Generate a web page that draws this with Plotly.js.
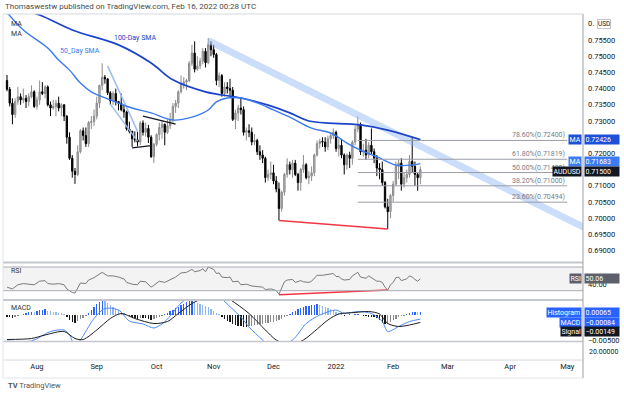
<!DOCTYPE html>
<html><head><meta charset="utf-8">
<script src="https://cdn.plot.ly/plotly-3.0.1.min.js"></script>
<style>html,body{margin:0;padding:0;background:#fff;}#chart{width:624px;height:395px;}</style>
</head><body><div id="chart"></div>
<script>
// ---------- DATA ----------
const dates = [
"2021-07-16","2021-07-19","2021-07-20","2021-07-21","2021-07-22","2021-07-23","2021-07-26","2021-07-27","2021-07-28","2021-07-29","2021-07-30",
"2021-08-02","2021-08-03","2021-08-04","2021-08-05","2021-08-06","2021-08-09","2021-08-10","2021-08-11","2021-08-12","2021-08-13","2021-08-16","2021-08-17","2021-08-18","2021-08-19","2021-08-20","2021-08-23","2021-08-24","2021-08-25","2021-08-26","2021-08-27","2021-08-30","2021-08-31",
"2021-09-01","2021-09-02","2021-09-03","2021-09-06","2021-09-07","2021-09-08","2021-09-09","2021-09-10","2021-09-13","2021-09-14","2021-09-15","2021-09-16","2021-09-17","2021-09-20","2021-09-21","2021-09-22","2021-09-23","2021-09-24","2021-09-27","2021-09-28","2021-09-29","2021-09-30",
"2021-10-01","2021-10-04","2021-10-05","2021-10-06","2021-10-07","2021-10-08","2021-10-11","2021-10-12","2021-10-13","2021-10-14","2021-10-15","2021-10-18","2021-10-19","2021-10-20","2021-10-21","2021-10-22","2021-10-25","2021-10-26","2021-10-27","2021-10-28","2021-10-29",
"2021-11-01","2021-11-02","2021-11-03","2021-11-04","2021-11-05","2021-11-08","2021-11-09","2021-11-10","2021-11-11","2021-11-12","2021-11-15","2021-11-16","2021-11-17","2021-11-18","2021-11-19","2021-11-22","2021-11-23","2021-11-24","2021-11-25","2021-11-26","2021-11-29","2021-11-30",
"2021-12-01","2021-12-02","2021-12-03","2021-12-06","2021-12-07","2021-12-08","2021-12-09","2021-12-10","2021-12-13","2021-12-14","2021-12-15","2021-12-16","2021-12-17","2021-12-20","2021-12-21","2021-12-22","2021-12-23","2021-12-24","2021-12-27","2021-12-28","2021-12-29","2021-12-30","2021-12-31",
"2022-01-03","2022-01-04","2022-01-05","2022-01-06","2022-01-07","2022-01-10","2022-01-11","2022-01-12","2022-01-13","2022-01-14","2022-01-17","2022-01-18","2022-01-19","2022-01-20","2022-01-21","2022-01-24","2022-01-25","2022-01-26","2022-01-27","2022-01-28","2022-01-31",
"2022-02-01","2022-02-02","2022-02-03","2022-02-04","2022-02-07","2022-02-08","2022-02-09","2022-02-10","2022-02-11","2022-02-14","2022-02-15"];

const open = [.7425,.7398,.7355,.7320,.7360,.7375,.7365,.7370,.7360,.7375,.7390,
.7345,.7365,.7390,.7385,.7405,.7350,.7340,.7345,.7355,.7340,.7350,.7315,.7250,.7185,.7145,.7135,.7205,.7270,.7255,.7230,.7295,.7298,
.7315,.7355,.7410,.7435,.7430,.7387,.7362,.7385,.7360,.7355,.7335,.7328,.7275,.7268,.7245,.7242,.7235,.7294,.7265,.7277,.7250,.7190,
.7228,.7258,.7280,.7290,.7265,.7285,.7305,.7345,.7355,.7390,.7415,.7420,.7425,.7478,.7510,.7460,.7470,.7485,.7515,.7480,.7535,
.7520,.7505,.7425,.7440,.7385,.7405,.7400,.7395,.7305,.7325,.7340,.7335,.7265,.7270,.7265,.7235,.7240,.7205,.7195,.7185,.7125,.7135,
.7140,.7115,.7090,.7030,.7080,.7135,.7165,.7150,.7170,.7135,.7110,.7150,.7165,.7125,.7130,.7140,.7195,.7230,.7237,.7235,.7220,.7245,.7255,
.7265,.7215,.7225,.7195,.7165,.7195,.7185,.7235,.7275,.7290,.7205,.7210,.7195,.7225,.7205,.7185,.7155,.7150,.7110,.7035,.7020,
.7070,.7105,.7160,.7170,.7105,.7125,.7135,.7175,.7160,.7135,.7125];
const high = [.7442,.7405,.7370,.7370,.7405,.7385,.7400,.7380,.7385,.7410,.7395,
.7375,.7425,.7420,.7410,.7410,.7360,.7365,.7365,.7375,.7355,.7352,.7318,.7265,.7195,.7155,.7225,.7275,.7280,.7280,.7300,.7315,.7335,
.7375,.7412,.7478,.7442,.7432,.7392,.7392,.7400,.7362,.7385,.7350,.7332,.7298,.7270,.7268,.7267,.7300,.7302,.7295,.7288,.7256,.7232,
.7262,.7295,.7300,.7292,.7305,.7325,.7355,.7365,.7395,.7440,.7435,.7430,.7485,.7535,.7546,.7500,.7495,.7525,.7525,.7556,.7546,
.7535,.7510,.7450,.7445,.7420,.7420,.7430,.7405,.7335,.7350,.7370,.7345,.7280,.7290,.7280,.7260,.7245,.7225,.7210,.7190,.7150,.7175,
.7165,.7130,.7110,.7085,.7140,.7185,.7175,.7180,.7180,.7140,.7155,.7195,.7170,.7145,.7160,.7200,.7240,.7245,.7250,.7250,.7255,.7265,.7277,
.7270,.7245,.7245,.7200,.7200,.7205,.7240,.7285,.7314,.7295,.7230,.7245,.7235,.7277,.7215,.7195,.7170,.7175,.7115,.7060,.7075,
.7115,.7175,.7180,.7185,.7140,.7150,.7195,.7249,.7175,.7140,.7160];
const low = [.7392,.7345,.7290,.7310,.7350,.7350,.7355,.7340,.7345,.7370,.7340,
.7335,.7350,.7380,.7370,.7345,.7315,.7335,.7315,.7330,.7315,.7300,.7230,.7180,.7125,.7106,.7130,.7200,.7240,.7220,.7220,.7275,.7285,
.7305,.7340,.7395,.7415,.7380,.7350,.7350,.7348,.7333,.7330,.7310,.7270,.7262,.7220,.7234,.7222,.7226,.7255,.7252,.7232,.7186,.7170,
.7222,.7240,.7245,.7225,.7260,.7275,.7295,.7325,.7340,.7385,.7400,.7395,.7420,.7470,.7450,.7455,.7460,.7475,.7465,.7475,.7500,
.7495,.7410,.7405,.7375,.7375,.7385,.7375,.7300,.7275,.7300,.7320,.7255,.7240,.7250,.7225,.7225,.7195,.7180,.7170,.7110,.7115,.7120,
.7105,.7080,.6993,.7020,.7070,.7125,.7135,.7125,.7130,.7085,.7085,.7140,.7120,.7105,.7115,.7130,.7190,.7215,.7220,.7205,.7210,.7230,.7245,
.7205,.7190,.7185,.7135,.7150,.7155,.7165,.7225,.7265,.7195,.7190,.7180,.7185,.7195,.7170,.7130,.7120,.7100,.7030,.6967,.7000,
.7050,.7100,.7120,.7085,.7095,.7110,.7125,.7140,.7100,.7085,.7105];
const close = [.7398,.7355,.7320,.7360,.7375,.7365,.7370,.7360,.7375,.7390,.7345,
.7365,.7390,.7385,.7405,.7350,.7340,.7345,.7355,.7340,.7350,.7315,.7250,.7185,.7145,.7135,.7205,.7270,.7255,.7230,.7295,.7298,.7315,
.7355,.7410,.7435,.7430,.7387,.7362,.7385,.7360,.7355,.7335,.7328,.7275,.7268,.7245,.7242,.7235,.7294,.7265,.7277,.7250,.7190,.7228,
.7258,.7280,.7290,.7265,.7285,.7305,.7345,.7355,.7390,.7415,.7420,.7425,.7478,.7510,.7460,.7470,.7485,.7515,.7480,.7535,.7520,
.7505,.7425,.7440,.7385,.7405,.7400,.7395,.7305,.7325,.7340,.7335,.7265,.7270,.7265,.7235,.7240,.7205,.7195,.7185,.7125,.7135,.7140,
.7115,.7090,.7030,.7080,.7135,.7165,.7150,.7170,.7135,.7110,.7150,.7165,.7125,.7130,.7140,.7195,.7230,.7237,.7235,.7220,.7245,.7255,.7265,
.7215,.7225,.7195,.7165,.7195,.7185,.7235,.7275,.7290,.7205,.7210,.7195,.7225,.7205,.7185,.7155,.7150,.7110,.7035,.7020,.7070,
.7105,.7160,.7170,.7105,.7125,.7135,.7175,.7160,.7135,.7125,.7150];

// moving averages (at sample bars)
const sma100Idx = [0,12,24,41,53,61,73,86,96,104,111,130,140,152];
const sma100Val = [0.7658,0.7627,0.7581,0.7535,0.7479,0.7427,0.7390,0.7371,0.7349,0.7325,0.7300,0.7288,0.7272,0.72426];
const sma50Idx = [0,6,15,19,23,27,31,38,46,53,61,68,74,77,81,86,92,98,104,112,119,125,130,137,143,149,152];
const sma50Val = [0.7635,0.7581,0.7525,0.7488,0.7457,0.7417,0.7390,0.7365,0.7340,0.7325,0.7303,0.7312,0.7334,0.7359,0.7371,0.7371,0.7356,0.7334,0.7312,0.7278,0.7263,0.7232,0.7210,0.7186,0.7164,0.7164,0.71683];

// RSI
const rsiIdx = [0,2,4,6,8,10,12,14,15,17,19,21,22,24,25,26,27,29,30,32,34,35,37,39,41,43,44,46,48,49,51,53,54,56,58,60,62,64,66,68,69,71,72,73,74,75,76,77,78,79,81,82,83,85,86,88,90,92,94,95,97,98,99,100,101,102,103,105,106,108,109,111,112,113,114,116,118,119,120,121,122,123,124,126,127,128,129,130,132,133,134,135,136,137,138,139,140,141,142,143,144,145,146,147,148,149,150,151,152];
const rsiVal = [36,33,40,42,41,40,46,47,42,41,42,40,33,27,26,36,43,42,48,52,58,61,55,55,53,50,44,41,40,46,45,36,39,46,44,49,53,60,61,66,62,64,67,62,70,68,66,59,60,53,52,53,45,46,40,41,38,37,36,32,33,32,30,24,34,45,48,49,44,47,45,44,46,52,56,56,57,58,59,54,54,50,48,49,55,58,61,53,51,55,52,49,46,46,44,36,31,40,44,52,53,47,49,50,55,53,49,46,50.06];

// MACD
const macdIdx = [0,9,16,21,23,25,27,32,36,41,45,50,54,57,59,64,67,71,75,79,86,89,94,98,105,110,115,121,124,129,134,138,140,144,148,152];
const macdVal = [-0.0052,-0.0052,-0.0033,-0.0030,-0.0040,-0.0062,-0.0050,-0.0007,0.0013,0.0010,-0.0012,-0.0018,-0.0026,-0.0018,-0.0008,0.0024,0.0036,0.0055,0.0065,0.0033,-0.0004,-0.0024,-0.0050,-0.0065,-0.0050,-0.0017,0.0000,0.0010,0.0003,0.0007,0.0003,-0.0013,-0.0033,-0.0023,-0.0013,-0.00084];
const sigIdx = [0,9,14,21,25,28,33,38,42,47,54,59,63,68,71,77,82,89,95,99,104,109,113,118,122,128,133,137,140,144,148,152];
const sigVal = [-0.0049,-0.0047,-0.0040,-0.0033,-0.0047,-0.0049,-0.0030,-0.0007,0.0003,-0.0007,-0.0017,-0.0013,0.0003,0.0023,0.0031,0.0046,0.0031,0.0003,-0.0030,-0.0050,-0.0060,-0.0050,-0.0033,-0.0010,0.0002,0.0005,0.0007,0.0002,-0.0017,-0.0023,-0.0020,-0.00149];
const hist = [-0.0003,-0.0004,-0.0005,-0.0004,-0.0002,
0.0001,0.0003,0.0004,0.0006,0.0007,0.0006,0.0008,0.0010,0.0011,0.0012,0.0009,0.0008,0.0007,0.0006,0.0005,0.0004,0.0003,
-0.0004,-0.0009,-0.0013,-0.0015,-0.0012,-0.0008,-0.0005,-0.0002,
0.0004,0.0010,0.0016,0.0022,0.0027,0.0031,0.0029,0.0025,0.0021,0.0017,0.0013,0.0010,0.0007,0.0004,0.0001,
-0.0002,-0.0004,-0.0006,-0.0007,-0.0005,-0.0005,-0.0006,-0.0007,-0.0009,-0.0008,-0.0006,-0.0003,-0.0001,
0.0002,0.0005,0.0008,0.0011,0.0014,0.0017,0.0020,0.0023,0.0026,0.0028,0.0029,0.0027,0.0024,0.0022,0.0020,0.0018,0.0016,0.0012,0.0008,0.0005,0.0002,
-0.0003,-0.0007,-0.0011,-0.0014,-0.0017,-0.0019,-0.0021,-0.0022,-0.0023,-0.0023,-0.0022,-0.0021,-0.0020,-0.0019,-0.0018,-0.0017,-0.0016,-0.0015,-0.0014,-0.0013,-0.0011,-0.0009,-0.0007,-0.0004,-0.0002,
0.0003,0.0006,0.0009,0.0012,0.0014,0.0016,0.0018,0.0019,0.0020,0.0021,0.0022,0.0021,0.0019,0.0017,0.0015,0.0012,0.0010,0.0007,0.0004,0.0002,
-0.0001,0.0001,0.0002,0.0001,0.0002,0.0003,0.0001,-0.0001,-0.0002,-0.0003,-0.0003,-0.0004,
-0.0006,-0.0010,-0.0015,-0.0018,-0.0017,-0.0014,-0.0010,-0.0007,-0.0004,-0.0002,-0.0001,
0.0002,0.0004,0.0006,0.0007,0.0006,0.00065];

// drawings
const trendBandX = ["2021-10-28","2022-05-13"], trendBandY = [0.7548,0.6960];
const wedgeAIdx = [37,48], wedgeAY = [0.7470,0.7268];
const wedgeBIdx = [38,48], wedgeBY = [0.7352,0.7238];
const triUpIdx = [50,62], triUpY = [0.7315,0.7290];
const triLoIdx = [46,53], triLoY = [0.7217,0.7224];
const lowLineIdx = [100,140], lowLineY = [0.6993,0.6967];
const rsiDivIdx = [100,140], rsiDivY = [23,31];
const fibStartIdx = 129, fibEnd = "2022-05-02";
const fibLevels = [0.72400,0.71819,0.71409,0.71000,0.70494];
const fibLabels = ["78.60%(0.72400)","61.80%(0.71819)","50.00%(0.71409)","38.20%(0.71000)","23.60%(0.70494)"];

const monthTicks = ["2021-08-02","2021-09-01","2021-10-01","2021-11-01","2021-12-01","2022-01-03","2022-02-01","2022-03-01","2022-04-01","2022-05-02"];
const monthText = ["Aug","Sep","Oct","Nov","Dec","2022","Feb","Mar","Apr","May"];
const priceTicks = [0.690,0.695,0.700,0.705,0.710,0.720,0.730,0.735,0.740,0.745,0.750,0.755,0.760];
const priceTickText = ["0.69000","0.69500","0.70000","0.70500","0.71000","0.72000","0.73000","0.73500","0.74000","0.74500","0.75000","0.75500","0."];
const lastValues = {sma100:"0.72426", sma50:"0.71683", close:"0.71500", rsi:"50.06", hist:"0.00065", macd:"\u22120.00084", signal:"\u22120.00149"};

// ---------- BUILD ----------
const noon = d => d + " 12:00";
const X = dates.map(noon);
const at = idx => idx.map(i => X[i]);

const L = 3, R = 583, T = 14, B = 360;
const fy = py => (B - py) / (B - T);
const fx = px => (px - L) / (R - L);

const histColors = hist.map((v, k) => {
  const p = k > 0 ? hist[k-1] : v;
  if (v >= 0) return v >= p ? "#2962ff" : "#8fb6f5";
  return v <= p ? "#1a1a1a" : "#8a8a8a";
});

const traces = [
  {type:"scatter", mode:"lines", x:trendBandX.map(noon), y:trendBandY, line:{color:"rgba(140,180,240,0.45)", width:7}, hoverinfo:"skip"},
  {type:"scatter", mode:"lines", x:at(wedgeAIdx), y:wedgeAY, line:{color:"#9dbdf2", width:1.5}, hoverinfo:"skip"},
  {type:"scatter", mode:"lines", x:at(wedgeBIdx), y:wedgeBY, line:{color:"#9dbdf2", width:1.5}, hoverinfo:"skip"},
  {type:"candlestick", x:X, open:open, high:high, low:low, close:close, whiskerwidth:0,
   increasing:{line:{color:"#8c8c8c", width:1}, fillcolor:"#b3b3b3"},
   decreasing:{line:{color:"#000000", width:1}, fillcolor:"#000000"}, hoverinfo:"skip"},
  {type:"scatter", mode:"lines", x:at(sma100Idx), y:sma100Val, line:{color:"#1c44c9", width:1.7, shape:"spline", smoothing:1}, hoverinfo:"skip"},
  {type:"scatter", mode:"lines", x:at(sma50Idx), y:sma50Val, line:{color:"#3a7bf0", width:1.4, shape:"spline", smoothing:1}, hoverinfo:"skip"},
  {type:"scatter", mode:"lines", x:at(triUpIdx), y:triUpY, line:{color:"#131722", width:1.3}, hoverinfo:"skip"},
  {type:"scatter", mode:"lines", x:at(triLoIdx), y:triLoY, line:{color:"#131722", width:1.3}, hoverinfo:"skip"},
  {type:"scatter", mode:"lines", x:at(lowLineIdx), y:lowLineY, line:{color:"#f23645", width:1.5}, hoverinfo:"skip"},
  // RSI
  {type:"scatter", mode:"lines", x:at(rsiIdx), y:rsiVal, yaxis:"y2", line:{color:"#7a7a7a", width:1}, hoverinfo:"skip"},
  {type:"scatter", mode:"lines", x:at(rsiDivIdx), y:rsiDivY, yaxis:"y2", line:{color:"#f23645", width:1.5}, hoverinfo:"skip"},
  // MACD
  {type:"bar", x:X, y:hist, yaxis:"y3", width:0.5*86400000, marker:{color:histColors, line:{width:0}}, hoverinfo:"skip"},
  {type:"scatter", mode:"lines", x:at(macdIdx), y:macdVal, yaxis:"y3", line:{color:"#4d8af7", width:1, shape:"spline", smoothing:0.8}, hoverinfo:"skip"},
  {type:"scatter", mode:"lines", x:at(sigIdx), y:sigVal, yaxis:"y3", line:{color:"#1f1f1f", width:1, shape:"spline", smoothing:0.8}, hoverinfo:"skip"}
];
fibLevels.forEach(v => traces.push({type:"scatter", mode:"lines", x:[X[fibStartIdx], noon(fibEnd)], y:[v, v], line:{color:"#9a9da6", width:1}, hoverinfo:"skip"}));

const gridLine = (y, w, c) => ({type:"line", xref:"paper", yref:"paper", x0:0, x1:1, y0:y, y1:y, line:{color:c||"#c9ccd3", width:w||1}});
const shapes = [
  {type:"rect", xref:"paper", yref:"y2", x0:0, x1:1, y0:30, y1:70, fillcolor:"rgba(120,123,134,0.09)", line:{width:0}, layer:"below"},
  {type:"line", xref:"paper", yref:"y2", x0:0, x1:1, y0:70, y1:70, line:{color:"#a9acb4", width:1}},
  {type:"line", xref:"paper", yref:"y2", x0:0, x1:1, y0:30, y1:30, line:{color:"#a9acb4", width:1}},
  gridLine(1, 1, "#d6d8de"),
  gridLine(fy(262.5), 2, "#c4c7ce"),
  gridLine(fy(300), 2, "#c4c7ce"),
  gridLine(fy(341.5), 1.5, "#c4c7ce"),
  {type:"line", xref:"paper", yref:"paper", x0:0, x1:1, y0:0, y1:0, line:{color:"#d6d8de", width:1}},
  {type:"line", xref:"paper", yref:"paper", x0:0, x1:1, y0:fy(378), y1:fy(378), line:{color:"#e3e5ea", width:1}},
  {type:"line", xref:"paper", yref:"paper", x0:1, x1:1, y0:fy(378), y1:1, line:{color:"#9ea1aa", width:1}},
  {type:"line", xref:"paper", yref:"paper", x0:0, x1:0, y0:fy(378), y1:1, line:{color:"#e3e5ea", width:1}}
];

const txt = (text, x, y, o) => Object.assign({text:text, xref:"paper", yref:"paper", x:x, y:y, showarrow:false, xanchor:"left", yanchor:"middle", font:{size:7, color:"#131722"}}, o||{});
const badgeR = (text, yref, y, bg, o) => Object.assign({text:text, xref:"paper", yref:yref, x:1, y:y, xshift:1, showarrow:false, xanchor:"left", yanchor:"middle", align:"left", width:33, height:8, bgcolor:bg, borderpad:0.5, font:{size:7, color:"#ffffff"}}, o||{});
const badgeL = (text, yref, y, bg, o) => Object.assign({text:text, xref:"paper", yref:yref, x:1, y:y, xshift:-1, showarrow:false, xanchor:"right", yanchor:"middle", height:8, bgcolor:bg, borderpad:0.5, font:{size:7, color:"#ffffff"}}, o||{});

const annotations = [];
fibLevels.forEach((v, k) => annotations.push({text:fibLabels[k], xref:"x", yref:"y", x:noon(fibEnd), y:v, showarrow:false, xanchor:"right", yanchor:"bottom", yshift:-1, font:{size:7, color:"#787b86"}}));
annotations.push(
  txt("Thomaswestw published on TradingView.com, Feb 16, 2022 00:28 UTC", 0, fy(7), {font:{size:8, color:"#4a4a4a"}}),
  txt("MA", fx(9), fy(24), {font:{size:7, color:"#333"}}),
  txt("MA", fx(9), fy(34), {font:{size:7, color:"#333"}}),
  txt("RSI", fx(9), fy(271), {font:{size:7, color:"#333"}}),
  txt("MACD", fx(9), fy(308), {font:{size:7, color:"#333"}}),
  txt("<b>TV</b> TradingView", fx(6), fy(385), {font:{size:7.5, color:"#555"}}),
  {text:"100-Day SMA", xref:"x", yref:"y", x:X[47], y:0.7556, showarrow:false, font:{size:7, color:"#1c44c9"}},
  {text:"50_Day SMA", xref:"x", yref:"y", x:X[27], y:0.7515, showarrow:false, font:{size:7, color:"#3a7bf0"}},
  txt("20.00000", 1, fy(352), {xshift:4, font:{size:7, color:"#131722"}}),
  {text:"USD", xref:"paper", yref:"paper", x:1, y:fy(24), xshift:14, xanchor:"left", yanchor:"middle", showarrow:false, bgcolor:"#ffffff", bordercolor:"#c3c6cc", borderwidth:1, borderpad:0, font:{size:6.5, color:"#131722"}},
  badgeL("MA", "y", 0.72426, "#1e4fd8"), badgeR(lastValues.sma100, "y", 0.72426, "#1e4fd8"),
  badgeL("MA", "y", 0.71683, "#3d7cf0", {yshift:2}), badgeR(lastValues.sma50, "y", 0.71683, "#3d7cf0", {yshift:2}),
  badgeL("AUDUSD", "y", 0.715, "#131722", {yshift:-2}), badgeR(lastValues.close, "y", 0.715, "#131722", {yshift:-2}),
  badgeL("RSI", "y2", 50.06, "#5d606b"), badgeR(lastValues.rsi, "y2", 50.06, "#5d606b"),
  badgeL("Histogram", "paper", fy(312.5), "#2962ff"), badgeR(lastValues.hist, "paper", fy(312.5), "#2962ff"),
  badgeL("MACD", "paper", fy(322), "#2962ff"), badgeR(lastValues.macd, "paper", fy(322), "#2962ff"),
  badgeL("Signal", "paper", fy(331.5), "#131722"), badgeR(lastValues.signal, "paper", fy(331.5), "#131722")
);

const layout = {
  width:624, height:395, margin:{l:3, r:41, t:14, b:35, pad:0},
  paper_bgcolor:"#ffffff", plot_bgcolor:"#ffffff", showlegend:false,
  font:{family:"Roboto, 'Noto Sans', sans-serif", size:7.5, color:"#131722"},
  boxgap:0.3, bargap:0,
  xaxis:{type:"date", range:["2021-07-15 00:43","2022-05-10 07:12"], rangebreaks:[{bounds:["sat","mon"]}],
         rangeslider:{visible:false}, showgrid:false, zeroline:false, showline:false, ticks:"",
         tickvals:monthTicks.map(noon), ticktext:monthText, anchor:"free", position:0, tickfont:{size:7.5, color:"#131722"}},
  yaxis:{domain:[fy(262), 1], range:[0.686481, 0.763025], side:"right", anchor:"x", showgrid:false, zeroline:false, showline:false, ticks:"",
         tickvals:priceTicks, ticktext:priceTickText, ticklabelstandoff:4, tickfont:{size:7.5}},
  yaxis2:{domain:[fy(299), fy(263)], range:[16, 76.75], side:"right", anchor:"x", showgrid:false, zeroline:false, showline:false, ticks:"",
          tickvals:[40], ticktext:["40.00"], ticklabelstandoff:4, tickfont:{size:7.5}},
  yaxis3:{domain:[fy(341), fy(301)], range:[-0.0052, 0.0028], side:"right", anchor:"x", showgrid:false, zeroline:false, showline:false, ticks:"",
          tickvals:[-0.005], ticktext:["\u22120.00500"], ticklabelstandoff:4, tickfont:{size:7.5}},
  shapes:shapes, annotations:annotations
};

Plotly.newPlot("chart", traces, layout, {staticPlot:true, displayModeBar:false});
</script>
</body></html>
